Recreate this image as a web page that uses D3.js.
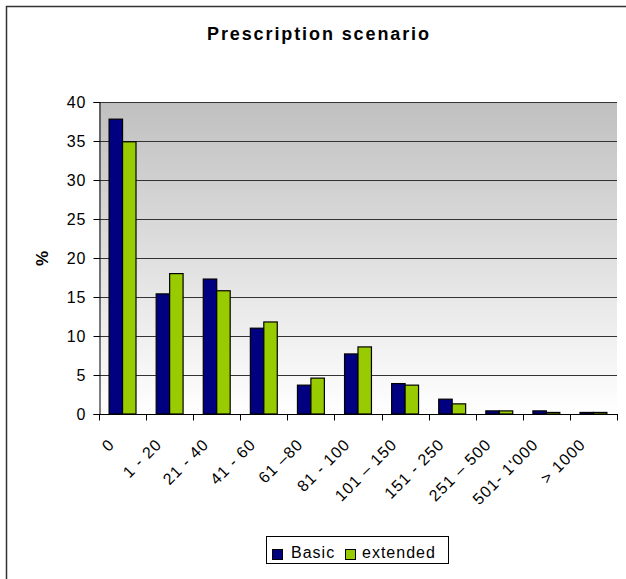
<!DOCTYPE html>
<html>
<head>
<meta charset="utf-8">
<script src="https://cdn.jsdelivr.net/npm/d3@7"></script>
<style>
  html, body { margin: 0; padding: 0; background: #fff; }
  svg { display: block; }
  text { font-family: "Liberation Sans", Arial, sans-serif; fill: #000; }
</style>
</head>
<body>
<svg id="chart" width="626" height="579"></svg>
<script>
const categories = ["0", "1 - 20", "21 - 40", "41 - 60", "61 \u201380", "81 - 100", "101 \u2013 150", "151 - 250", "251 \u2013 500", "501- 1'000", "> 1000"];
const basicValues = [37.8, 15.4, 17.3, 11.0, 3.7, 7.7, 3.9, 1.9, 0.4, 0.4, 0.2];
const extendedValues = [34.9, 18.0, 15.8, 11.8, 4.6, 8.6, 3.7, 1.3, 0.4, 0.2, 0.2];
const seriesNames = ["Basic", "extended"];
const seriesColors = ["#000080", "#99CC00"];
const yTicks = [0, 5, 10, 15, 20, 25, 30, 35, 40];
const titleText = "Prescription scenario";
const yLabel = "%";

const svg = d3.select("#chart");
const W = 626, H = 579;
const plot = { left: 99, right: 617, top: 102, bottom: 414 };
const FS = "16px", LS = "1px";

// outer chart border
svg.append("rect")
  .attr("x", 6.5).attr("y", 6.5)
  .attr("width", W + 10).attr("height", H + 10)
  .attr("fill", "#fff").attr("stroke", "#333").attr("stroke-width", 1.5);

// gradient
const defs = svg.append("defs");
const grad = defs.append("linearGradient").attr("id", "bg")
  .attr("x1", 0).attr("y1", 0).attr("x2", 0).attr("y2", 1);
grad.append("stop").attr("offset", "0%").attr("stop-color", "#c0c0c0");
grad.append("stop").attr("offset", "100%").attr("stop-color", "#ffffff");

const x = d3.scaleBand().domain(categories).range([plot.left, plot.right]).paddingInner(0).paddingOuter(0);
const bw = x.bandwidth();
const barW = bw / 3.5;
const xs = d3.scaleBand().domain(seriesNames).range([0.75 * barW, 2.75 * barW]);
const y = d3.scaleLinear().domain([0, 40]).range([plot.bottom, plot.top]);

svg.append("rect")
  .attr("x", plot.left).attr("y", plot.top)
  .attr("width", plot.right - plot.left).attr("height", plot.bottom - plot.top)
  .attr("fill", "url(#bg)");

// gridlines
svg.append("g").selectAll("line").data(yTicks.filter(d => d > 0)).join("line")
  .attr("x1", plot.left).attr("x2", plot.right)
  .attr("y1", d => Math.round(y(d)) + 0.5).attr("y2", d => Math.round(y(d)) + 0.5)
  .attr("stroke", "#333").attr("stroke-width", 1);

// bars
const data = categories.map((c, i) => ({ cat: c, vals: [basicValues[i], extendedValues[i]] }));
const groups = svg.append("g").selectAll("g").data(data).join("g")
  .attr("transform", d => `translate(${x(d.cat)},0)`);
groups.selectAll("rect").data(d => d.vals.map((v, j) => ({ key: seriesNames[j], v, color: seriesColors[j] })))
  .join("rect")
  .attr("x", d => xs(d.key))
  .attr("y", d => y(d.v))
  .attr("width", xs.bandwidth())
  .attr("height", d => y(0) - y(d.v))
  .attr("fill", d => d.color)
  .attr("stroke", "#000").attr("stroke-width", 1.2);

// y axis
const yAxis = d3.axisLeft(y).tickValues(yTicks).tickSize(6).tickPadding(8);
const gy = svg.append("g").attr("transform", `translate(${plot.left + 0.5},0)`).call(yAxis);
gy.select(".domain").attr("stroke", "#000");
gy.selectAll(".tick line").attr("stroke", "#000");
gy.selectAll(".tick text")
  .style("font-family", "'Liberation Sans', Arial, sans-serif")
  .style("font-size", FS).style("letter-spacing", LS).attr("fill", "#000")
  .attr("dx", "1px");

// x axis
const gx = svg.append("g").attr("transform", `translate(0,${plot.bottom + 0.5})`);
gx.append("line").attr("x1", plot.left).attr("x2", plot.right + 1).attr("stroke", "#000");
const bounds = d3.range(categories.length + 1).map(i => plot.left + i * bw);
gx.selectAll("line.tk").data(bounds).join("line").attr("class", "tk")
  .attr("x1", d => Math.round(d) + 0.5).attr("x2", d => Math.round(d) + 0.5)
  .attr("y1", 0).attr("y2", 6).attr("stroke", "#000");
gx.selectAll("text").data(categories).join("text")
  .attr("transform", d => `translate(${x(d) + bw / 2 - 7},${31}) rotate(-45)`)
  .attr("text-anchor", "end")
  .style("font-size", FS).style("letter-spacing", LS)
  .text(d => d);

// title
svg.append("text").attr("x", 207).attr("y", 40)
  .attr("textLength", 222).attr("lengthAdjust", "spacing")
  .style("font-size", "18px").style("font-weight", "bold")
  .text(titleText);

// y label
svg.append("text").attr("transform", "translate(48,258.5) rotate(-90)")
  .attr("text-anchor", "middle")
  .style("font-size", "17px").style("font-weight", "bold")
  .text(yLabel);

// legend
const lg = svg.append("g");
lg.append("rect").attr("x", 266.5).attr("y", 536.5).attr("width", 182).attr("height", 27)
  .attr("fill", "#fff").attr("stroke", "#000").attr("stroke-width", 1);
const legX = [272, 345];
const legTX = [291, 362];
seriesNames.forEach((s, i) => {
  lg.append("rect").attr("x", legX[i] + 0.5).attr("y", 549.5).attr("width", 10).attr("height", 10)
    .attr("fill", seriesColors[i]).attr("stroke", "#000").attr("stroke-width", 1);
  lg.append("text").attr("x", legTX[i]).attr("y", 557.5)
    .style("font-size", FS).style("letter-spacing", LS)
    .text(s);
});
</script>
</body>
</html>
